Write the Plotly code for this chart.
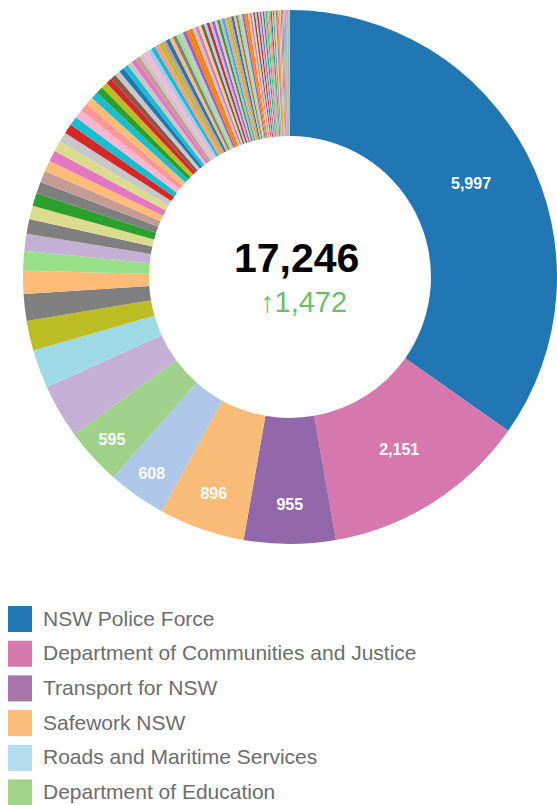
import plotly.graph_objects as go

# ---- data ----
top_labels = [
    "NSW Police Force",
    "Department of Communities and Justice",
    "Transport for NSW",
    "Safework NSW",
    "Roads and Maritime Services",
    "Department of Education",
]
top_values = [5997, 2151, 955, 896, 608, 595]

other_values = [
    566, 402, 311, 278, 240, 206, 177, 153, 140, 134, 125, 120, 115, 115, 110,
    105, 100, 95, 90, 86, 81, 78, 72, 67, 62,
    58, 56, 55, 53, 52, 50, 49, 48, 47, 46, 45, 44, 43, 42, 41, 40, 39, 38, 37,
    36, 35, 34, 33, 32, 31, 30, 30, 29, 28, 28, 27, 26, 26, 25, 25, 25, 24, 24,
    23, 22, 22, 21, 21, 20, 20, 19, 19, 18, 18, 17, 17, 16, 16, 15, 15, 14, 14,
    13, 13, 12, 12, 11, 11, 10, 10, 10, 9, 9, 9, 8, 8, 8, 7, 7, 7, 6, 6, 6, 5,
    5, 5, 4, 4, 4, 3, 3, 3, 2, 2, 2, 1, 1, 1, 1,
]
other_labels = ["Other agency %d" % (i + 1) for i in range(len(other_values))]

total_text = "17,246"
change_text = "\u21911,472"

# ---- styles ----
top_slice_colors = ["#2077b4", "#d677ad", "#9268ab", "#f9bb78", "#aec7e8", "#9fd18a"]
legend_colors = ["#2077b4", "#d67aae", "#a676ac", "#fbbb7b", "#b3dcec", "#a0d28a"]
observed_other_colors = [
    "#c5b0d5", "#9edae5", "#bcbd22", "#7f7f7f", "#ffbb78", "#98df8a", "#c5b0d5",
    "#7f7f7f", "#dbdb8d", "#2ca02c", "#7f7f7f", "#c49c94", "#ffbb78", "#e377c2",
    "#dbdb8d", "#c7c7c7", "#d62728", "#17becf", "#f7b6d2", "#ff9896", "#ffbb78",
    "#17becf", "#2ca02c", "#bcbd22", "#d62728", "#8c564b", "#c7c7c7", "#1f77b4",
    "#17becf", "#c7c7c7", "#e377c2", "#c49c94", "#c7c7c7", "#f7b6d2", "#aec7e8",
]
cycle_palette = [
    "#ff7f0e", "#c7c7c7", "#e377c2", "#dbdb8d", "#8c564b", "#9edae5", "#d62728",
    "#aec7e8", "#9467bd", "#f7b6d2", "#2ca02c", "#c5b0d5", "#17becf", "#ff9896",
    "#bcbd22", "#c49c94", "#1f77b4", "#ffbb78", "#7f7f7f", "#98df8a", "#c7c7c7",
    "#9467bd", "#ff7f0e",
]
other_colors = []
for i in range(len(other_values)):
    if i < len(observed_other_colors):
        other_colors.append(observed_other_colors[i])
    else:
        other_colors.append(cycle_palette[i % len(cycle_palette)])

labels = top_labels + other_labels
values = top_values + other_values
colors = top_slice_colors + other_colors
texts = ["{:,}".format(v) for v in top_values] + [""] * len(other_values)
textpos = ["inside"] * len(top_values) + ["none"] * len(other_values)

W, H = 557, 805

fig = go.Figure(
    go.Pie(
        labels=labels,
        values=values,
        hole=0.528,
        sort=False,
        direction="clockwise",
        rotation=0,
        marker=dict(colors=colors, line=dict(width=0)),
        text=texts,
        textinfo="text",
        textposition=textpos,
        insidetextorientation="horizontal",
        textfont=dict(color="white", size=16, family="Liberation Sans", weight="bold"),
        showlegend=False,
        hoverinfo="label+value",
        domain=dict(x=[23 / W, 1.0], y=[261 / H, 795 / H]),
    )
)

annotations = [
    dict(text=total_text, x=296 / W, y=1 - 258 / H, xref="paper", yref="paper",
         showarrow=False, xanchor="center", yanchor="middle",
         font=dict(size=41, color="#000000", family="Liberation Sans", weight="bold")),
    dict(text=change_text, x=303 / W, y=1 - 302 / H, xref="paper", yref="paper",
         showarrow=False, xanchor="center", yanchor="middle",
         font=dict(size=29, color="#6cbf6a", family="Liberation Sans")),
]
shapes = []
row_top0, row_step, sw_h = 606, 34.7, 26
for i, (lab, col) in enumerate(zip(top_labels, legend_colors)):
    top = row_top0 + i * row_step
    shapes.append(dict(type="rect", xref="paper", yref="paper",
                       x0=8 / W, x1=32 / W, y0=1 - top / H, y1=1 - (top + sw_h) / H,
                       fillcolor=col, line=dict(width=0)))
    annotations.append(dict(text=lab, x=41 / W, y=1 - (top + 12) / H,
                            xref="paper", yref="paper", showarrow=False,
                            xanchor="left", yanchor="middle",
                            font=dict(size=21, color="#6d6d6d", family="Liberation Sans")))

fig.update_layout(
    width=W, height=H,
    margin=dict(l=0, r=0, t=0, b=0),
    paper_bgcolor="white", plot_bgcolor="white",
    annotations=annotations, shapes=shapes,
    showlegend=False,
)

fig.write_html("out.html")
